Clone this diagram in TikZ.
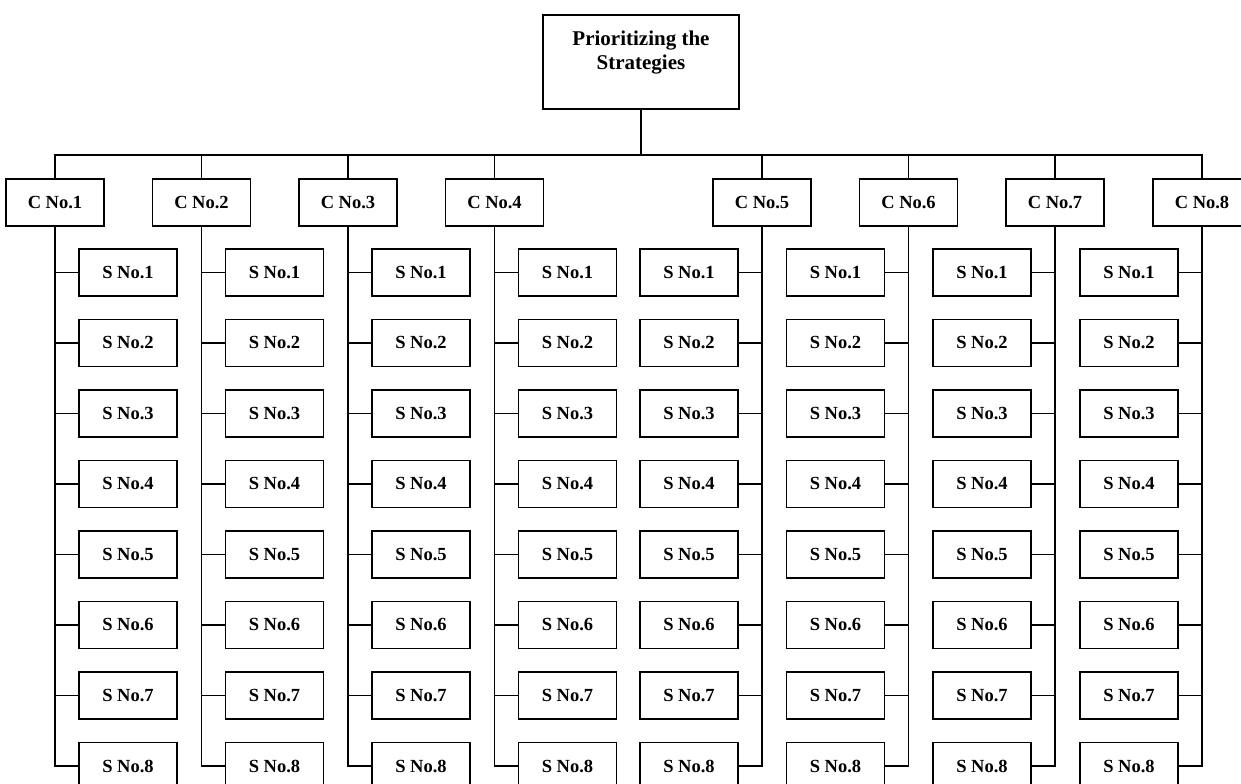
\documentclass[tikz,border=0pt]{standalone}
\usepackage{fontspec}
\setmainfont{Liberation Serif}
\tikzset{
  box/.style={draw, line width=1.9bp, minimum width=98bp, minimum height=47bp, inner sep=0pt,
    font=\fontsize{18.5bp}{22bp}\selectfont\bfseries},
  wire/.style={line width=1.9bp},
}
\begin{document}
\begin{tikzpicture}[x=1bp,y=-1bp]
\useasboundingbox (0,0) rectangle (1241,784);
\node[box, minimum width=196bp, minimum height=94bp, align=center,
  font=\fontsize{21bp}{23.5bp}\selectfont\bfseries] (top) at (641,62) {Prioritizing the\\Strategies\\\mbox{}};
\coordinate (bus) at (641,155);
\draw[wire] (top.south) -- (bus);
\foreach \i/\x in {1/55,2/201.5,3/348,4/494.5,5/762,6/908.5,7/1055,8/1202} {
  \node[box] (c\i) at (\x,202.5) {C No.\i};
}
\draw[wire] (c1.north) |- (bus) -| (c8.north);
\foreach \i in {2,...,7} {
  \draw[wire] (c\i.north) -- (c\i.north |- bus);
}
\foreach \i/\x/\d/\s in {1/55/1/west,2/201.5/1/west,3/348/1/west,4/494.5/1/west,5/762/-1/east,6/908.5/-1/east,7/1055/-1/east,8/1202/-1/east} {
  \foreach \k in {1,...,8} {
    \node[box] (s\i-\k) at ({\x+73*\d},{272.5+70.5*(\k-1)}) {S No.\k};
  }
  \foreach \k in {1,...,7} {
    \draw[wire] (s\i-\k.\s) -- (s\i-\k.\s -| c\i.south);
  }
  \draw[wire] (c\i.south) |- (s\i-8.\s);
}
\end{tikzpicture}
\end{document}
